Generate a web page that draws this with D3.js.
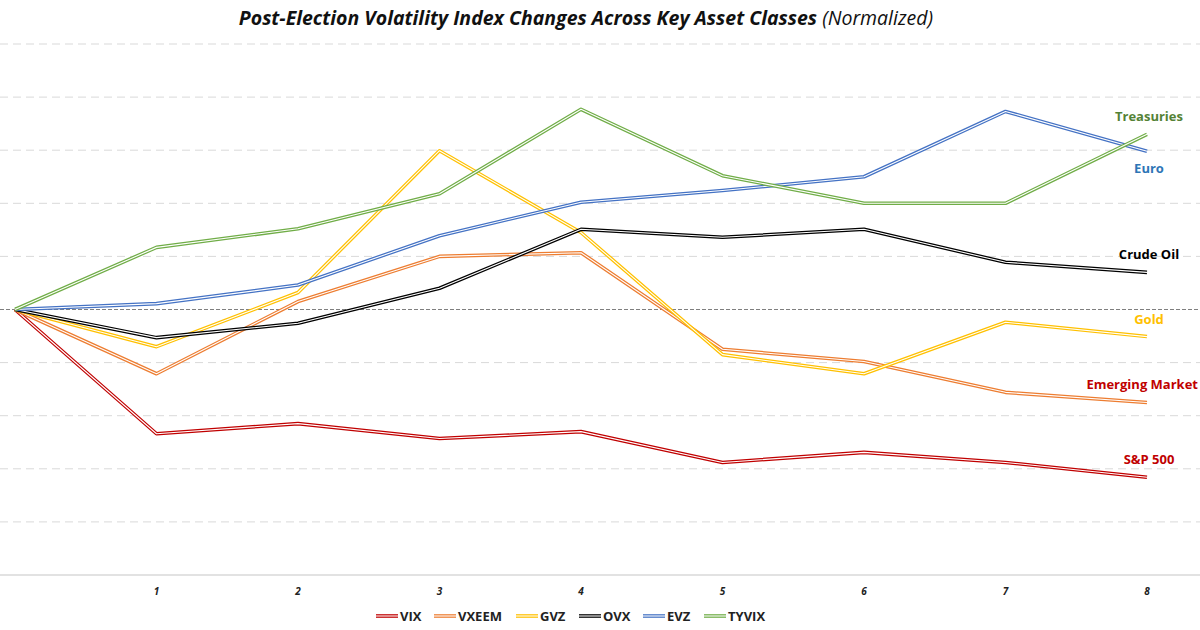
<!DOCTYPE html>
<html>
<head>
<meta charset="utf-8">
<script src="https://cdn.jsdelivr.net/npm/d3@7"></script>
<style>
  body { margin: 0; background: #fff; }
  svg { display: block; font-family: "Open Sans", "Liberation Sans", sans-serif; }
  .grid line { stroke: #d9d9d9; stroke-dasharray: 8,5; stroke-width: 1; }
  .tick-label { font-size: 10px; font-weight: bold; font-style: italic; fill: #222; }
  .end-label { font-size: 13px; font-weight: bold; }
  .legend text { font-size: 13px; font-weight: bold; fill: #222; }
</style>
</head>
<body>
<svg id="chart" width="1200" height="630"></svg>
<script>
var steps = [0, 1, 2, 3, 4, 5, 6, 7, 8];
var tickLabels = ['1', '2', '3', '4', '5', '6', '7', '8'];
var gridValues = [5, 4, 3, 2, 1, -1, -2, -3, -4];

var seriesNames = ['VIX', 'VXEEM', 'GVZ', 'OVX', 'EVZ', 'TYVIX'];
var vix   = [0, -2.34, -2.15, -2.43, -2.30, -2.88, -2.69, -2.88, -3.16];
var vxeem = [0, -1.21,  0.15,  1.00,  1.07, -0.75, -0.98, -1.56, -1.75];
var gvz   = [0, -0.70,  0.32,  2.99,  1.45, -0.85, -1.21, -0.24, -0.51];
var ovx   = [0, -0.53, -0.26,  0.40,  1.51,  1.36,  1.51,  0.89,  0.70];
var evz   = [0,  0.11,  0.46,  1.39,  2.02,  2.24,  2.50,  3.73,  2.98];
var tyvix = [0,  1.17,  1.52,  2.18,  3.77,  2.52,  2.00,  2.00,  3.30];
var endLabels = ['S&P 500', 'Emerging Market', 'Gold', 'Crude Oil', 'Euro', 'Treasuries'];

var lineColors = ['#c00000', '#ed7d31', '#ffc000', '#000000', '#4472c4', '#70ad47'];
var labelColors = ['#c00000', '#c00000', '#ffc000', '#000000', '#2e75b6', '#548235'];

var allValues = [vix, vxeem, gvz, ovx, evz, tyvix];

var svg = d3.select('#chart');

var x = d3.scaleLinear().domain([0, 8]).range([15, 1147]);
var y = d3.scaleLinear().domain([-5, 5]).range([575, 44]);

// title
var title = svg.append('text')
  .attr('x', 586).attr('y', 25)
  .attr('text-anchor', 'middle')
  .style('font-size', '19.5px')
  .style('font-style', 'italic')
  .style('fill', '#111');
title.append('tspan').style('font-weight', 'bold')
  .text('Post-Election Volatility Index Changes Across Key Asset Classes ');
title.append('tspan').style('font-weight', 'normal').text('(Normalized)');

// grid
svg.append('g').attr('class', 'grid')
  .selectAll('line').data(gridValues).enter().append('line')
  .attr('x1', 0).attr('x2', 1200)
  .attr('y1', function(d) { return y(d); })
  .attr('y2', function(d) { return y(d); });

svg.append('line')
  .attr('x1', 0).attr('x2', 1200)
  .attr('y1', y(-5)).attr('y2', y(-5))
  .style('stroke', '#d9d9d9').style('stroke-width', 1.5);

svg.append('line')
  .attr('x1', 0).attr('x2', 1200)
  .attr('y1', y(0)).attr('y2', y(0))
  .style('stroke', '#7f7f7f').style('stroke-dasharray', '4,2').style('stroke-width', 1);

// x tick labels
svg.append('g')
  .selectAll('text').data(tickLabels).enter().append('text')
  .attr('class', 'tick-label')
  .attr('x', function(d) { return x(+d); })
  .attr('y', 595)
  .attr('text-anchor', 'middle')
  .text(function(d) { return d; });

// lines (double stroke)
var line = d3.line()
  .x(function(d, i) { return x(steps[i]); })
  .y(function(d) { return y(d); });

var series = svg.append('g').selectAll('g').data(allValues).enter().append('g');
series.append('path')
  .attr('d', line)
  .style('fill', 'none')
  .style('stroke', function(d, i) { return lineColors[i]; })
  .style('stroke-width', 3.6)
  .style('stroke-linejoin', 'round');
series.append('path')
  .attr('d', line)
  .style('fill', 'none')
  .style('stroke', '#fff')
  .style('stroke-width', 1.1)
  .style('stroke-linejoin', 'round');

// end labels, centred over the last point (the long one kept inside the frame)
svg.append('g')
  .selectAll('text').data(allValues).enter().append('text')
  .attr('class', 'end-label')
  .attr('x', function(d, i) { return endLabels[i] == 'Emerging Market' ? 1198 : 1149; })
  .attr('y', function(d, i) {
    var last = y(d[d.length - 1]);
    return endLabels[i] == 'Euro' ? last + 22 : last - 13;
  })
  .attr('text-anchor', function(d, i) { return endLabels[i] == 'Emerging Market' ? 'end' : 'middle'; })
  .style('fill', function(d, i) { return labelColors[i]; })
  .text(function(d, i) { return endLabels[i]; });

// legend
var legendX = [376, 434, 516, 579, 643, 704];
var legend = svg.append('g').attr('class', 'legend')
  .selectAll('g').data(seriesNames).enter().append('g')
  .attr('transform', function(d, i) { return 'translate(' + legendX[i] + ',616)'; });
legend.append('line')
  .attr('x1', 0).attr('x2', 22)
  .style('stroke', function(d, i) { return lineColors[i]; })
  .style('stroke-width', 3.6);
legend.append('line')
  .attr('x1', 0).attr('x2', 22)
  .style('stroke', '#fff')
  .style('stroke-width', 1.1);
legend.append('text')
  .attr('x', 24).attr('y', 4.5)
  .text(function(d) { return d; });
</script>
</body>
</html>
